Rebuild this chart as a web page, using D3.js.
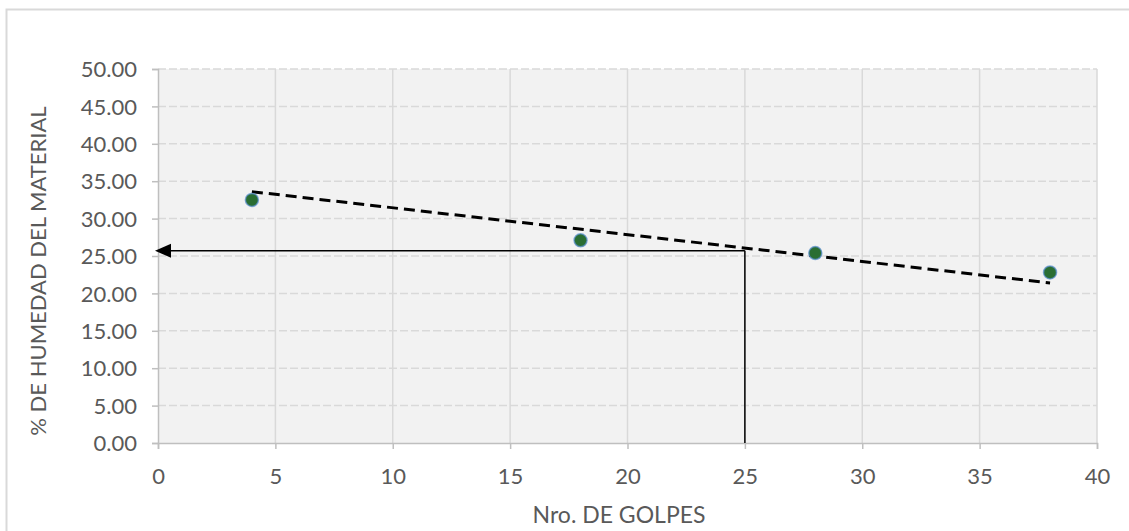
<!DOCTYPE html>
<html>
<head>
<meta charset="utf-8">
<script src="https://cdn.jsdelivr.net/npm/d3@7"></script>
<style>
  html, body { margin: 0; padding: 0; background: #ffffff; }
  svg { display: block; }
</style>
</head>
<body>
<svg id="chart" width="1129" height="531"></svg>
<script>
// Blow counts and moisture content (%) of the sample points
const golpes = [4, 18, 28, 38];
const humedad = [32.5, 27.1, 25.4, 22.8];

// Fitted trend line end points
const trendX = [4, 38];
const trendY = [33.6, 21.4];

// Reading at 25 blows
const golpesRef = 25;
const humedadRef = 25.7;

// Axis ticks
const xTicks = [0, 5, 10, 15, 20, 25, 30, 35, 40];
const yTicks = [0, 5, 10, 15, 20, 25, 30, 35, 40, 45, 50];

const svg = d3.select("#chart");
const W = 1129, H = 531;
const margin = { left: 158, right: 32, top: 69, bottom: 88 };
const font = "Lato, 'Open Sans', sans-serif";
const textColor = "#595959";

// Outer chart frame
svg.append("rect")
  .attr("x", 6.5).attr("y", 9.5)
  .attr("width", W + 20).attr("height", H + 20)
  .attr("fill", "#ffffff")
  .attr("stroke", "#d9d9d9").attr("stroke-width", 2);

const x = d3.scaleLinear().domain([0, 40]).range([margin.left, W - margin.right]);
const y = d3.scaleLinear().domain([0, 50]).range([H - margin.bottom, margin.top]);

// Plot background
svg.append("rect")
  .attr("x", x(0)).attr("y", y(50))
  .attr("width", x(40) - x(0)).attr("height", y(0) - y(50))
  .attr("fill", "#f2f2f2");

// Horizontal gridlines (dashed)
svg.append("g").selectAll("line").data(yTicks.filter(d => d > 0)).join("line")
  .attr("x1", x(0)).attr("x2", x(40))
  .attr("y1", d => y(d)).attr("y2", d => y(d))
  .attr("stroke", "#d9d9d9").attr("stroke-width", 1.5)
  .attr("stroke-dasharray", "8,3");

// Vertical gridlines
svg.append("g").selectAll("line").data(xTicks.filter(d => d > 0)).join("line")
  .attr("x1", d => x(d)).attr("x2", d => x(d))
  .attr("y1", y(0)).attr("y2", y(50))
  .attr("stroke", "#d9d9d9").attr("stroke-width", 1.5);

// Axes
const xAxis = d3.axisBottom(x).tickValues(xTicks).tickSize(6).tickPadding(19)
  .tickFormat(d3.format("d"));
const yAxis = d3.axisLeft(y).tickValues(yTicks).tickSize(6).tickPadding(15)
  .tickFormat(d3.format(".2f"));

const gx = svg.append("g").attr("transform", `translate(0,${y(0)})`).call(xAxis);
const gy = svg.append("g").attr("transform", `translate(${x(0)},0)`).call(yAxis);

[gx, gy].forEach(g => {
  g.select(".domain").attr("stroke", "#bfbfbf").attr("stroke-width", 1.5);
  g.selectAll(".tick line").attr("stroke", "#bfbfbf").attr("stroke-width", 1.5);
  g.selectAll(".tick text")
    .attr("fill", textColor)
    .style("font-family", font)
    .style("font-size", "22px");
});
gy.selectAll(".tick text").attr("dy", "0.35em");

// Axis titles
svg.append("text")
  .attr("x", 619).attr("y", 523)
  .attr("text-anchor", "middle")
  .attr("fill", textColor)
  .style("font-family", font).style("font-size", "23px")
  .text("Nro. DE GOLPES");

svg.append("text")
  .attr("transform", `translate(46,271) rotate(-90)`)
  .attr("text-anchor", "middle")
  .attr("fill", textColor)
  .style("font-family", font).style("font-size", "22px")
  .text("% DE HUMEDAD DEL MATERIAL");

// Reading lines at 25 blows
svg.append("line")
  .attr("x1", x(golpesRef)).attr("x2", x(golpesRef))
  .attr("y1", y(0)).attr("y2", y(humedadRef))
  .attr("stroke", "#000").attr("stroke-width", 1.5);

svg.append("line")
  .attr("x1", x(golpesRef)).attr("x2", x(0))
  .attr("y1", y(humedadRef)).attr("y2", y(humedadRef))
  .attr("stroke", "#000").attr("stroke-width", 1.5);

// Arrow head pointing at the moisture axis
const ah = 16, aw = 7;
svg.append("path")
  .attr("d", `M${x(0) - 3},${y(humedadRef)} L${x(0) - 3 + ah},${y(humedadRef) - aw} L${x(0) - 3 + ah},${y(humedadRef) + aw} Z`)
  .attr("fill", "#000");

// Trend line
svg.append("path")
  .datum(trendX.map((v, i) => [v, trendY[i]]))
  .attr("d", d3.line().x(d => x(d[0])).y(d => y(d[1])))
  .attr("fill", "none")
  .attr("stroke", "#000").attr("stroke-width", 3)
  .attr("stroke-dasharray", "11,6");

// Sample points
svg.append("g").selectAll("circle").data(golpes).join("circle")
  .attr("cx", d => x(d))
  .attr("cy", (d, i) => y(humedad[i]))
  .attr("r", 6.5)
  .attr("fill", "#2a6e33")
  .attr("stroke", "#5a8fd0").attr("stroke-width", 1.5)
  .attr("stroke-opacity", 0.7);
</script>
</body>
</html>
